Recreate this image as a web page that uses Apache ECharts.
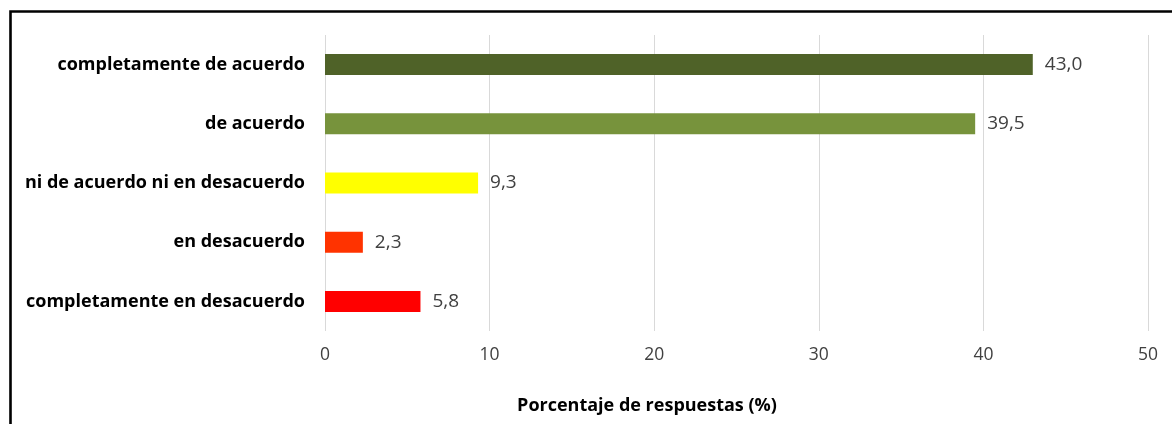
<!DOCTYPE html>
<html><head><meta charset="utf-8">
<script src="https://cdn.jsdelivr.net/npm/echarts@6/dist/echarts.min.js"></script>
<style>html,body{margin:0;padding:0;background:#fff}#c{width:1172px;height:424px}</style>
</head><body><div id="c"></div>
<script>
const categories = ['completamente de acuerdo','de acuerdo','ni de acuerdo ni en desacuerdo','en desacuerdo','completamente en desacuerdo'];
const values = [43.0, 39.5, 9.3, 2.3, 5.8];
const colors = ['#4F6228','#77933C','#FFFF00','#FF3300','#FF0000'];
const xTicks = [0,10,20,30,40,50];
const axisTitle = 'Porcentaje de respuestas (%)';

const chart = echarts.init(document.getElementById('c'), null, {renderer:'canvas'});
chart.setOption({
  animation:false,
  grid:{left:325,right:24,top:35,bottom:93,containLabel:false},
  xAxis:{type:'value',min:xTicks[0],max:xTicks[xTicks.length-1],interval:10,
    axisLine:{show:false},axisTick:{show:false},
    axisLabel:{margin:15,fontSize:17.5,color:'#404040',fontFamily:'Open Sans'},
    splitLine:{show:true,lineStyle:{color:'#D9D9D9',width:1}}},
  yAxis:{type:'category',data:categories,inverse:true,
    axisLine:{show:false},axisTick:{show:false},
    axisLabel:{margin:20,fontSize:18,fontWeight:'bold',color:'#000',fontFamily:'Open Sans'}},
  series:[{type:'bar',barWidth:21,
    data:values.map((v,i)=>({value:v,itemStyle:{color:colors[i]}})),
    label:{show:true,position:'right',distance:12,fontSize:19,color:'#404040',fontFamily:'Open Sans',
      formatter:p=>p.value.toFixed(1).replace('.',',')}}],
  graphic:[
    {type:'rect',shape:{x:10.5,y:11.5,width:1200,height:500},style:{fill:'none',stroke:'#000',lineWidth:2.6}},
    {type:'text',x:647,y:406,style:{text:axisTitle,fontSize:18,fontWeight:'bold',fill:'#000',fontFamily:'Open Sans',align:'center',verticalAlign:'middle'}}
  ]
});
</script></body></html>
